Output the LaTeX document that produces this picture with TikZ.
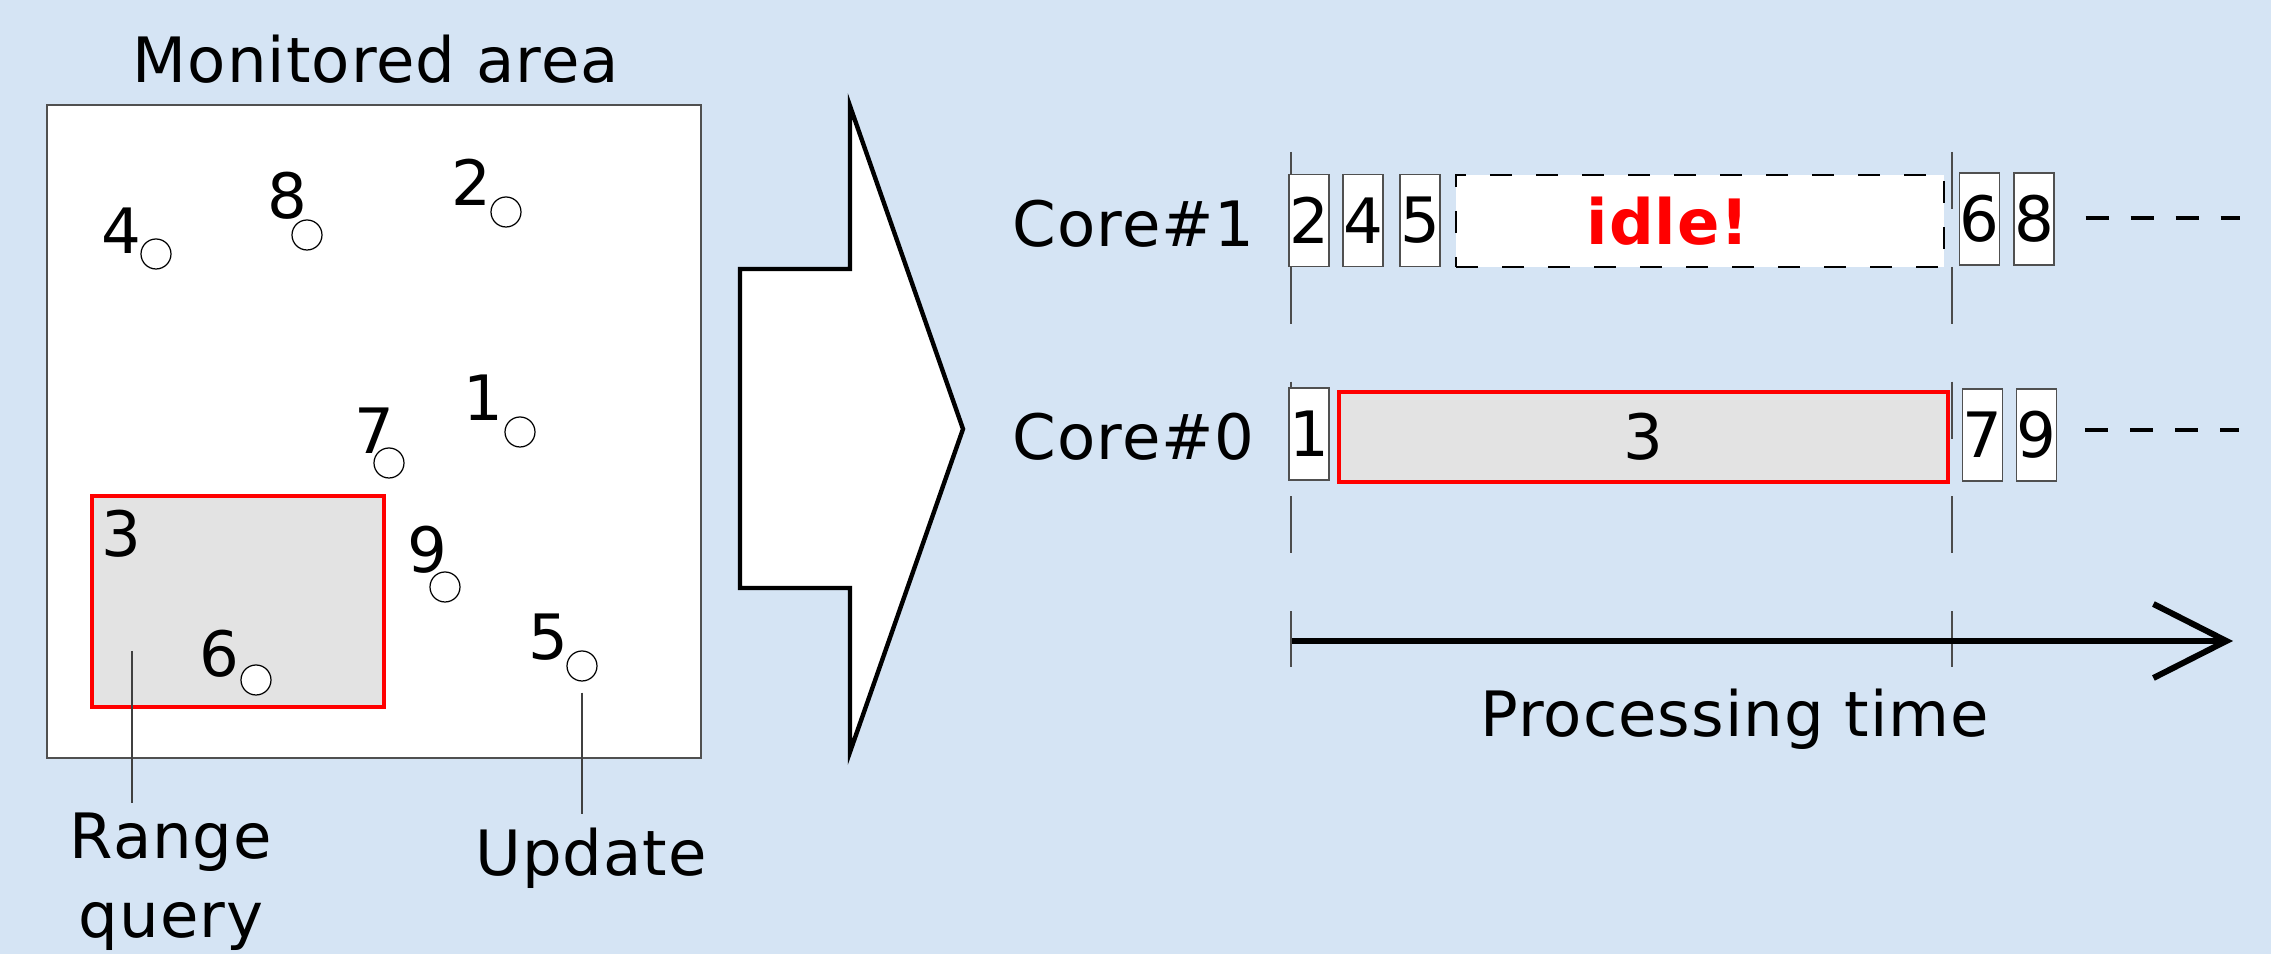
\documentclass[tikz,border=0pt]{standalone}
\usepackage{fontspec}
\setmainfont{DejaVu Sans}[LetterSpace=1.6]
\usepackage{tikz}
\usetikzlibrary{arrows.meta,positioning}
\definecolor{paneblue}{HTML}{D5E4F4}
\definecolor{querygray}{HTML}{E3E3E3}
\definecolor{slotedge}{HTML}{505050}
\newcommand{\figfont}{\fontsize{17.8}{20.5}\selectfont}

\begin{document}
\begin{tikzpicture}[every node/.style={font=\figfont, inner sep=0pt},
    obj/.style={circle, draw, line width=0.35pt, fill=white, minimum size=0.3cm},
    slot/.style={draw=slotedge, line width=0.4pt, fill=white, minimum width=0.34cm, minimum height=0.92cm},
    leader/.style={draw=black!75, line width=0.4pt},
    marker/.style={draw=black!70, line width=0.4pt, dash pattern=on 5.7mm off 5.78mm},
    more/.style={line width=1.1pt, dash pattern=on 2.3mm off 2.2mm}]
    % Background
    \fill[paneblue] (0,0) rectangle (22.71,-9.54);

    % Monitored area
    \node[anchor=base] (title) at (3.76,-0.83) {Monitored area};
    \draw[slotedge, line width=0.4pt, fill=white] (0.47,-1.05) rectangle (7.01,-7.58);

    % Range query rectangle
    \draw[red, line width=1.15pt, fill=querygray] (0.92,-4.96) rectangle (3.84,-7.07);
    \node (q3) at (1.21,-5.34) {3};

    % Moving objects
    \foreach \n/\cx/\cy/\lx/\ly in {4/1.56/2.54/1.21/2.31, 8/3.07/2.35/2.87/1.96,
        2/5.06/2.12/4.71/1.82, 1/5.20/4.32/4.83/3.98, 7/3.89/4.63/3.74/4.31,
        9/4.45/5.87/4.27/5.50, 6/2.56/6.80/2.19/6.54, 5/5.82/6.66/5.48/6.37} {
        \node[obj] (p\n) at (\cx,-\cy) {};
        \node (n\n) at (\lx,-\ly) {\n};
    }

    % Leader lines to the captions
    \coordinate (rqend) at (1.32,-6.51);
    \node[anchor=north, align=center, outer sep=0.1cm, font=\fontsize{17.8}{22.5}\selectfont]
        (rq) at (1.71,-8.03) {Range\\query};
    \draw[leader] (rqend) -- (rqend |- rq.north);
    \node[anchor=base, outer sep=0.145cm] (upd) at (5.91,-8.76) {Update};
    \draw[leader, shorten <=0.11cm] (p5.south) -- (p5.south |- upd.north);

    % Big block arrow
    \draw[line width=1.25pt, fill=white] (7.40,-2.69) -- (8.50,-2.69) -- (8.50,-1.06) -- (9.63,-4.29)
        -- (8.50,-7.52) -- (8.50,-5.88) -- (7.40,-5.88) -- cycle;

    % Time markers (behind the slots)
    \coordinate (m0top) at (12.91,-1.52);
    \coordinate (m0bot) at (12.91,-6.67);
    \coordinate (m1top) at (19.52,-1.52);
    \coordinate (m1bot) at (19.52,-6.67);
    \draw[marker] (m0top) -- (m0bot);
    \draw[marker] (m1top) -- (m1bot);

    % Core rows
    \node[anchor=base west] (core1) at (10.12,-2.47) {Core\#1};
    \node[anchor=base west] (core0) at (10.12,-4.60) {Core\#0};

    % Core#1 slots
    \foreach \n/\x in {2/13.09, 4/13.63, 5/14.20}
        \node[slot] (c1s\n) at (\x,-2.205) {\n};
    \node[draw, fill=white, line width=0.77pt, dash pattern=on 2.2mm off 2.4mm,
        minimum width=4.88cm, minimum height=0.92cm] (c1idle) at (17.00,-2.21) {};
    \node[anchor=base, text=red, font=\figfont\bfseries] (idle) at (16.68,-2.45) {idle!};
    \foreach \n/\x in {6/19.795, 8/20.34}
        \node[slot] (c1s\n) at (\x,-2.19) {\n};
    \draw[more] ([xshift=0.31cm]c1s8.east) ++(0,0.01) -- ++(1.54,0);

    % Core#0 slots
    \node[slot] (c0s1) at (13.09,-4.34) {1};
    \node[draw=red, line width=1.15pt, fill=querygray, minimum width=6.09cm,
        minimum height=0.90cm] (c0s3) at (16.435,-4.37) {3};
    \foreach \n/\x in {7/19.825, 9/20.365}
        \node[slot] (c0s\n) at (\x,-4.35) {\n};
    \draw[more] ([xshift=0.28cm]c0s9.east) ++(0,0.05) -- ++(1.54,0);

    % Time axis
    \coordinate (t0) at (12.92,-6.41);
    \coordinate (t1) at (22.33,-6.41);
    \draw[line width=1.7pt, -{Straight Barb[length=7.3mm,width=7.4mm]}] (t0) -- (t1);
    \node[anchor=base] (ptime) at (17.35,-7.37) {Processing time};
\end{tikzpicture}
\end{document}
